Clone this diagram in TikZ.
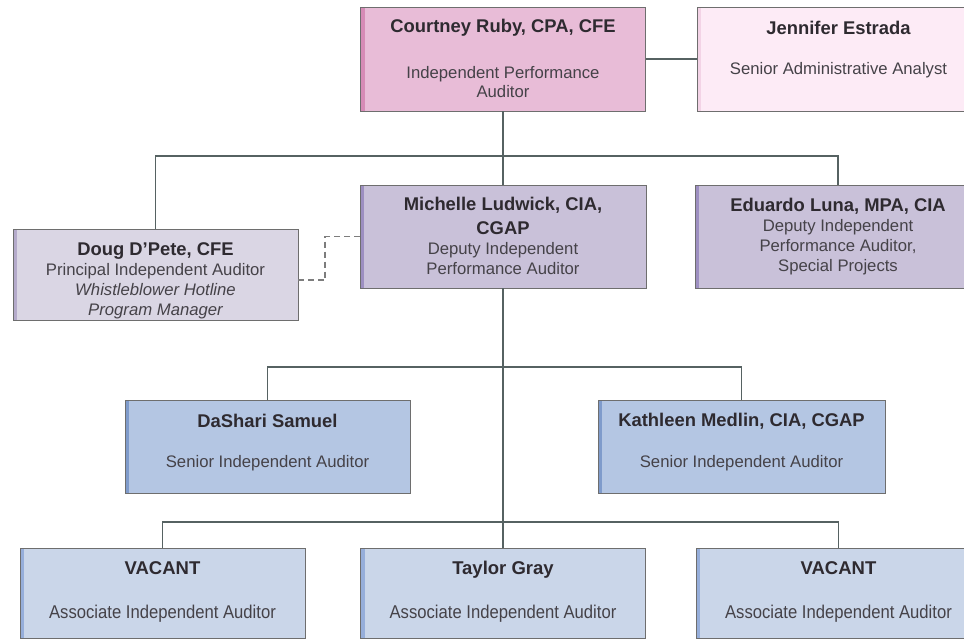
\documentclass[tikz,border=0pt]{standalone}
\usepackage{fontspec}
\setmainfont{Liberation Sans}
\newfontfamily\narrowfont[FakeStretch=0.9]{Liberation Sans}
\usetikzlibrary{calc}
\definecolor{boxline}{HTML}{6E6E6E}
\definecolor{conncol}{HTML}{566262}
\definecolor{namecol}{HTML}{2E2A30}
\definecolor{subcol}{HTML}{454248}
\definecolor{pinkfill}{HTML}{E8BCD7}
\definecolor{pinkstripe}{HTML}{D68BB6}
\definecolor{lpinkfill}{HTML}{FDEBF6}
\definecolor{lpinkstripe}{HTML}{F3D3E6}
\definecolor{lgrayfill}{HTML}{DAD6E4}
\definecolor{lgraystripe}{HTML}{B5ABCB}
\definecolor{purpfill}{HTML}{C9C1D9}
\definecolor{purpstripe}{HTML}{9D8FC1}
\definecolor{bluefill}{HTML}{B4C6E3}
\definecolor{bluestripe}{HTML}{7F9BCB}
\definecolor{lbluefill}{HTML}{CAD6E9}
\definecolor{lbluestripe}{HTML}{96AEDA}
\tikzset{
  orgbox/.style={rectangle, draw=boxline, line width=0.9pt, inner sep=0pt, outer sep=0pt},
  stripe/.style={path picture={\fill[#1] (path picture bounding box.north west) rectangle ([xshift=4pt]path picture bounding box.south west);}},
  nametext/.style={inner sep=0pt, align=center, text=namecol, font=\bfseries\fontsize{18.4}{24}\selectfont},
  subtext/.style={inner sep=0pt, align=center, text=subcol, font=\fontsize{16.7}{20}\selectfont},
  bname/.style={inner sep=0pt, text height=13.5pt, text depth=4pt, text=namecol, font=\bfseries\fontsize{18.5}{22}\selectfont},
  bsub/.style={inner sep=0pt, align=center, text=subcol, font=\narrowfont\fontsize{18.5}{22}\selectfont},
  conn/.style={draw=conncol, line width=1.2pt},
  dashconn/.style={draw=boxline!90, line width=1.1pt, dash pattern=on 6pt off 4pt}
}
\begin{document}
\begin{tikzpicture}[x=1pt,y=-1pt]
\useasboundingbox (0,0) rectangle (964,641);
% boxes
\node[orgbox, fill=pinkfill, stripe=pinkstripe, minimum width=285pt, minimum height=104pt] (cr) at (503,59) {};
\node[orgbox, fill=lpinkfill, stripe=lpinkstripe, minimum width=283pt, minimum height=104pt] (je) at (838.5,59) {};
\node[orgbox, fill=purpfill, stripe=purpstripe, minimum width=286pt, minimum height=103pt] (ml) at (503,236.5) {};
\node[orgbox, fill=purpfill, stripe=purpstripe, minimum width=286pt, minimum height=103pt] (el) at (838,236.5) {};
\node[orgbox, fill=lgrayfill, stripe=lgraystripe, minimum width=285pt, minimum height=91pt] (dd) at (155.5,274.5) {};
\node[orgbox, fill=bluefill, stripe=bluestripe, minimum width=285pt, minimum height=93pt] (ds) at (267.5,446.5) {};
\node[orgbox, fill=bluefill, stripe=bluestripe, minimum width=287pt, minimum height=93pt] (km) at (741.5,446.5) {};
\node[orgbox, fill=lbluefill, stripe=lbluestripe, minimum width=285pt, minimum height=90pt] (v1) at (162.5,593) {};
\node[orgbox, fill=lbluefill, stripe=lbluestripe, minimum width=285pt, minimum height=90pt] (tg) at (503,593) {};
\node[orgbox, fill=lbluefill, stripe=lbluestripe, minimum width=285pt, minimum height=90pt] (v2) at (838.5,593) {};
% texts
\node[nametext] (crn) at (503,28) {Courtney Ruby, CPA, CFE};
\node[subtext, font=\fontsize{16.7}{19}\selectfont] (crt) at (503,82) {Independent Performance\\Auditor};
\node[nametext] (jen) at (838.5,28) {Jennifer Estrada};
\node[subtext] (jet) at (838.5,70) {Senior Administrative Analyst};
\node[nametext] (mln) at (503,216) {Michelle Ludwick, CIA,\\CGAP};
\node[subtext] (mlt) at (503,259) {Deputy Independent\\Performance Auditor};
\node[nametext] (eln) at (838,206) {Eduardo Luna, MPA, CIA};
\node[subtext] (elt) at (838,247) {Deputy Independent\\Performance Auditor,\\Special Projects};
\node[nametext] (ddn) at (155.5,251) {Doug D'Pete, CFE};
\node[subtext] (ddt) at (155.5,291) {Principal Independent Auditor\\\itshape Whistleblower Hotline\\\itshape Program Manager};
\node[nametext] (dsn) at (267.5,421) {DaShari Samuel};
\node[subtext] (dst) at (267.5,463) {Senior Independent Auditor};
\node[nametext] (kmn) at (741.5,421) {Kathleen Medlin, CIA, CGAP};
\node[subtext] (kmt) at (741.5,463) {Senior Independent Auditor};
\node[bname] (v1n) at (162.5,570) {VACANT};
\node[bsub] (v1t) at (162.5,614) {Associate Independent Auditor};
\node[bname] (tgn) at (503,570) {Taylor Gray};
\node[bsub] (tgt) at (503,614) {Associate Independent Auditor};
\node[bname] (v2n) at (838.5,570) {VACANT};
\node[bsub] (v2t) at (838.5,614) {Associate Independent Auditor};
% junctions
\coordinate (j1) at (503,156);
\coordinate (j2) at (503,367);
\coordinate (j3) at (503,522);
\coordinate (d1) at (325,280);
% connectors
\draw[conn] (cr.east) -- (je.west);
\draw[conn] (cr.south) -- (ml.north);
\draw[conn] (dd.north) |- (el.north |- j1) -- (el.north);
\draw[conn] (ml.south) -- (tg.north);
\draw[conn] (ds.north) |- (km.north |- j2) -- (km.north);
\draw[conn] (v1.north) |- (v2.north |- j3) -- (v2.north);
\draw[dashconn] (ml.west) -| (d1) -- (dd.east |- d1);
\end{tikzpicture}
\end{document}
